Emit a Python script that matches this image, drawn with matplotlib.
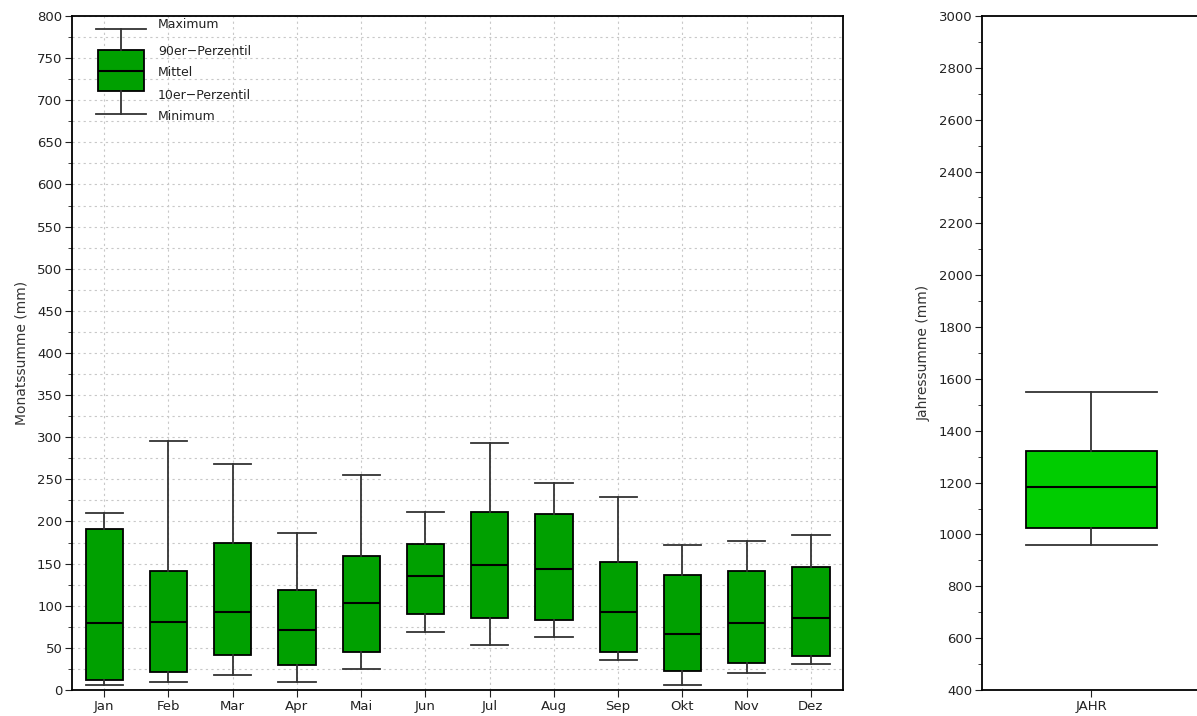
import numpy as np
import matplotlib.pyplot as plt
from matplotlib.ticker import MultipleLocator

# monthly precipitation statistics (mm)
months = ["Jan", "Feb", "Mar", "Apr", "Mai", "Jun", "Jul", "Aug", "Sep", "Okt", "Nov", "Dez"]
maximum = [210, 295, 268, 186, 255, 211, 293, 246, 229, 172, 177, 184]
p90 = [191, 141, 175, 119, 159, 173, 211, 209, 152, 137, 141, 146]
mittel = [80, 81, 92, 71, 103, 135, 148, 144, 92, 67, 80, 85]
p10 = [12, 21, 42, 30, 45, 90, 86, 83, 45, 23, 32, 40]
minimum = [6, 9, 18, 9, 25, 69, 54, 63, 36, 6, 20, 31]

# annual sum statistics (mm)
jahr = {"max": 1548, "p90": 1323, "mittel": 1184, "p10": 1025, "min": 960}

# legend glyph values
leg_vals = [785, 760, 735, 711, 684]
leg_text = ["Maximum", "90er\u2212Perzentil", "Mittel", "10er\u2212Perzentil", "Minimum"]

plt.rcParams['font.family'] = ['DejaVu Sans']
fig = plt.figure(figsize=(11.97, 7.16), dpi=100)

ax = fig.add_axes([0.0602, 0.0363, 0.6441, 0.9414])
ax2 = fig.add_axes([0.8204, 0.0363, 0.1825, 0.9414])

boxprops = dict(edgecolor="black", linewidth=1.3)
lineprops = dict(color="#333333", linewidth=1.3)
medprops = dict(color="black", linewidth=1.5)


def make_stats(mx, hi, med, lo, mn):
    return dict(whishi=mx, q3=hi, med=med, q1=lo, whislo=mn, fliers=[])


stats = [make_stats(*v) for v in zip(maximum, p90, mittel, p10, minimum)]
pos = np.arange(1, len(months) + 1)
b = ax.bxp(stats, positions=pos, widths=0.58, patch_artist=True,
           boxprops=boxprops, whiskerprops=lineprops, capprops=lineprops,
           medianprops=medprops, capwidths=0.58)
for p in b["boxes"]:
    p.set_facecolor("#00A000")

# legend glyph drawn as a box in the upper left
lb = ax.bxp([make_stats(*leg_vals)], positions=[1.26], widths=0.72, patch_artist=True,
            boxprops=boxprops, whiskerprops=lineprops, capprops=lineprops,
            medianprops=medprops, capwidths=0.78, manage_ticks=False)
lb["boxes"][0].set_facecolor("#00A000")
leg_y = [790, 758, 733, 706, 681]
for t, y in zip(leg_text, leg_y):
    ax.text(1.84, y, t, fontsize=9, va="center", ha="left", color="#222222")

ax.set_xlim(0.5, 12.5)
ax.set_ylim(0, 800)
ax.set_xticks(pos)
ax.set_xticklabels(months)
ax.yaxis.set_major_locator(MultipleLocator(50))
ax.yaxis.set_minor_locator(MultipleLocator(25))
ax.grid(True, which="both", axis="y", linestyle=(0, (2, 3)), color="#c8c8c8", linewidth=0.8)
ax.grid(True, which="major", axis="x", linestyle=(0, (2, 3)), color="#c8c8c8", linewidth=0.8)
ax.set_axisbelow(True)
ax.tick_params(axis="both", which="major", labelsize=9.5, length=5, pad=2, colors="#222222")
ax.tick_params(axis="y", which="minor", length=3, color="#222222")
ax.set_ylabel("Monatssumme (mm)", fontsize=10, color="#333333", labelpad=6)
for s in ax.spines.values():
    s.set_linewidth(1.3)

# annual box
b2 = ax2.bxp([make_stats(jahr["max"], jahr["p90"], jahr["mittel"], jahr["p10"], jahr["min"])],
             positions=[1], widths=0.6, patch_artist=True,
             boxprops=boxprops, whiskerprops=lineprops, capprops=lineprops,
             medianprops=medprops, capwidths=0.6)
b2["boxes"][0].set_facecolor("#00CC00")
ax2.set_xlim(0.5, 1.5)
ax2.set_ylim(400, 3000)
ax2.set_xticks([1])
ax2.set_xticklabels(["JAHR"])
ax2.yaxis.set_major_locator(MultipleLocator(200))
ax2.yaxis.set_minor_locator(MultipleLocator(100))
ax2.tick_params(axis="both", which="major", labelsize=9.5, length=5, pad=2, colors="#222222")
ax2.tick_params(axis="y", which="minor", length=3, color="#222222")
ax2.set_ylabel("Jahressumme (mm)", fontsize=10, color="#333333", labelpad=6)
ax2.spines["right"].set_visible(False)
for s in ax2.spines.values():
    s.set_linewidth(1.3)

plt.savefig("out.png", dpi=100)
